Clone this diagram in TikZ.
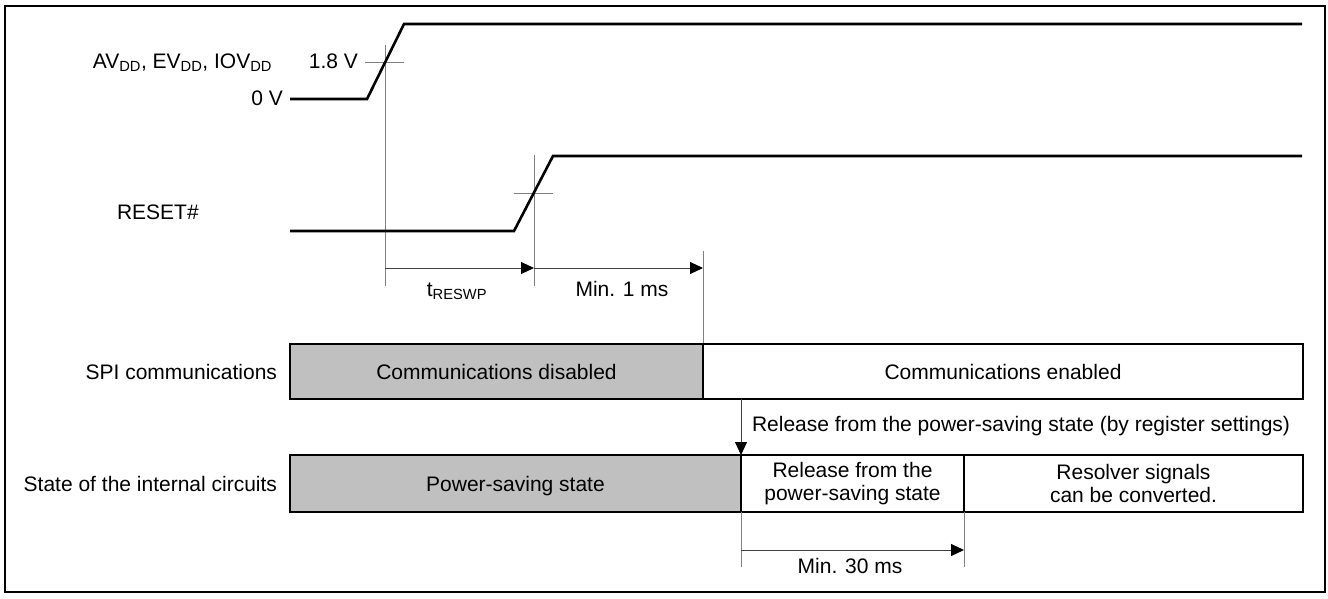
\documentclass[tikz,border=0pt]{standalone}
\usepackage{fontspec}
\setmainfont{Liberation Sans}
\usetikzlibrary{arrows.meta}
\definecolor{boxgray}{HTML}{C0C0C0}
\definecolor{guidegray}{HTML}{808080}
\begin{document}
\begin{tikzpicture}[x=1pt,y=-1pt,
  every node/.style={font=\fontsize{21}{22.5}\selectfont, inner sep=0pt, outer sep=0pt},
  sig/.style={line width=2.6pt, line join=miter},
  guide/.style={line width=1pt, draw=guidegray},
  dimarrow/.style={line width=1pt, draw=black!75, -{Triangle[length=13pt,width=12pt,fill=black,color=black]}},
  statebox/.style={draw, line width=2.2pt, text height=15pt, text depth=0pt},
  statebox2/.style={draw, line width=2.2pt, align=center},
  sidelabel/.style={anchor=base east}
]
\useasboundingbox (0,0) rectangle (1328,598);
\draw[line width=2.5pt] (5,6) rectangle (1325,592);

% signal coordinates
\coordinate (a0) at (290,99);
\coordinate (a1) at (367,99);
\coordinate (a2) at (404,24);
\coordinate (a3) at (1302,24);
\coordinate (r0) at (290,231);
\coordinate (r1) at (514,231);
\coordinate (r2) at (553,156);
\coordinate (r3) at (1302,156);

% ticks and guides
\coordinate (ta1) at (365,62);
\coordinate (ta2) at (404,62);
\coordinate (va1) at (385,45);
\coordinate (va2) at (385,286);
\coordinate (tr1) at (514,193);
\coordinate (tr2) at (553,193);
\coordinate (vr1) at (534,155);
\coordinate (vr2) at (534,286);
\coordinate (vm1) at (703,251);
\coordinate (vm2) at (703,344);
\coordinate (d1) at (385,268);
\coordinate (d2) at (534,268);
\coordinate (d3) at (703,268);

\draw[guide] (ta1) -- (ta2);
\draw[guide] (va1) -- (va2);
\draw[guide] (tr1) -- (tr2);
\draw[guide] (vr1) -- (vr2);
\draw[guide] (vm1) -- (vm2);

\draw[sig] (a0) -- (a1) -- (a2) -- (a3);
\draw[sig] (r0) -- (r1) -- (r2) -- (r3);

\draw[dimarrow] (d1) -- (d2);
\draw[dimarrow] (d2) -- (d3);

% labels
\node[sidelabel] (lav) at (272,68) {AV\textsubscript{DD}, EV\textsubscript{DD}, IOV\textsubscript{DD}};
\node[sidelabel] (l18) at (358,68) {1.8 V};
\node[sidelabel] (l0) at (283,105) {0 V};
\node[anchor=base west] (lrst) at (117,219) {RESET\#};
\node[anchor=base] (ltr) at (457,296) {t\textsubscript{RESWP}};
\node[anchor=base] (lmin1) at (622,296) {Min. 1 ms};

% SPI row
\node[sidelabel] (lspi) at (277,379) {SPI communications};
\node[statebox, fill=boxgray, minimum width=413pt, minimum height=55pt] (spioff) at (496.5,371.5) {Communications disabled};
\node[statebox, fill=white, minimum width=600pt, minimum height=55pt] (spion) at (1003,371.5) {Communications enabled};

% release arrow
\coordinate (rel1) at (741,399);
\coordinate (rel2) at (741,455);
\draw[dimarrow] (rel1) -- (rel2);
\node[anchor=base west] (lrel) at (752,431) {Release from the power-saving state (by register settings)};

% internal circuits row
\node[sidelabel] (lint) at (277,491) {State of the internal circuits};
\node[statebox, fill=boxgray, minimum width=451pt, minimum height=57pt] (pss) at (515.5,483.5) {Power-saving state};
\node[statebox2, fill=white, minimum width=223pt, minimum height=57pt] (rel) at (852.5,483.5) {Release from the\\power-saving state};
\node[statebox2, fill=white, minimum width=339pt, minimum height=57pt] (res) at (1133.5,483.5) {Resolver signals\\can be converted.};

% min 30 ms
\coordinate (m1) at (741,512);
\coordinate (m2) at (741,567);
\coordinate (m3) at (964,512);
\coordinate (m4) at (964,567);
\coordinate (ma) at (741,550);
\coordinate (mb) at (964,550);
\draw[guide] (m1) -- (m2);
\draw[guide] (m3) -- (m4);
\draw[dimarrow] (ma) -- (mb);
\node[anchor=base] (lmin30) at (850,573) {Min. 30 ms};
\end{tikzpicture}
\end{document}
